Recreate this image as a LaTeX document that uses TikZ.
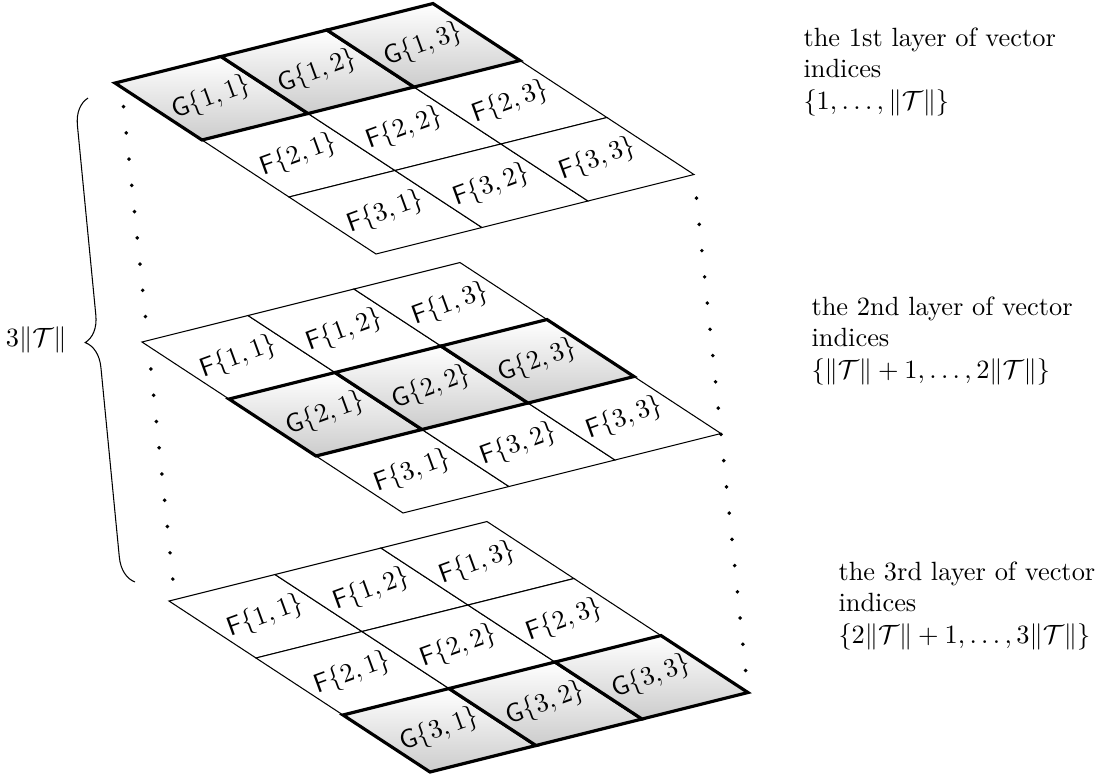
\documentclass[tikz,border=0pt]{standalone}
\usetikzlibrary{decorations.pathreplacing,backgrounds}
\begin{document}
\begin{tikzpicture}[
  x=0.379pt, y=-0.379pt,
  fcell/.style={draw, fill=white},
  gcell/.style={draw, very thick, top color=white, bottom color=gray!40},
  celltext/.style={rotate=20, inner sep=0pt},
  guide/.style={line width=1.5pt, line cap=round, dash pattern=on 0pt off 10pt, dash phase=1pt},
  layertext/.style={anchor=north west, align=left, inner sep=0pt}
]
\useasboundingbox (0,0) rectangle (1104,775);
% Layers
\foreach \k/\ox/\oy in {1/115/83, 2/142/342, 3/169/601} {
  \begin{scope}[shift={(\ox,\oy)}, x={(40.17pt,10.04pt)}, y={(32.97pt,-21.6pt)}]
    \coordinate (L\k-nw) at (0,0);
    \coordinate (L\k-se) at (3,3);
    % F rows
    \foreach \i in {1,2,3} {
      \foreach \j in {1,2,3} {
        \ifnum\i=\k\else
          \draw[fcell] (\j-1,\i-1) -- (\j,\i-1) -- (\j,\i) -- (\j-1,\i) -- cycle;
          \node[celltext] (F\k-\i\j) at (\j-0.5,\i-0.5) {$\mathsf{F}\{\i,\j\}$};
        \fi
      }
    }
    % G row
    \foreach \j in {1,2,3} {
      \draw[gcell] (\j-1,\k-1) -- (\j,\k-1) -- (\j,\k) -- (\j-1,\k) -- cycle;
      \node[celltext] (G\k-\j) at (\j-0.5,\k-0.5) {$\mathsf{G}\{\k,\j\}$};
    }
  \end{scope}
}
% Dotted guides
\begin{pgfonlayer}{background}
  \draw[guide] ([xshift=2.3pt]L1-nw) -- ([xshift=2.3pt]L3-nw);
  \draw[guide] (L1-se) -- (L3-se);
\end{pgfonlayer}
% Brace
\draw[decorate, decoration={brace, amplitude=10pt}] (135,582) -- (88,98)
  node[midway, anchor=east, xshift=-13.5pt] (total) {$3\|\mathcal{T}\|$};
% Layer descriptions
\node[layertext] (info1) at (803,27) {the 1st layer of vector\\indices\\$\{1,\ldots,\|\mathcal{T}\|\}$};
\node[layertext] (info2) at (811,296) {the 2nd layer of vector\\indices\\$\{\|\mathcal{T}\|+1,\ldots,2\|\mathcal{T}\|\}$};
\node[layertext] (info3) at (838,561) {the 3rd layer of vector\\indices\\$\{2\|\mathcal{T}\|+1,\ldots,3\|\mathcal{T}\|\}$};
\end{tikzpicture}
\end{document}
